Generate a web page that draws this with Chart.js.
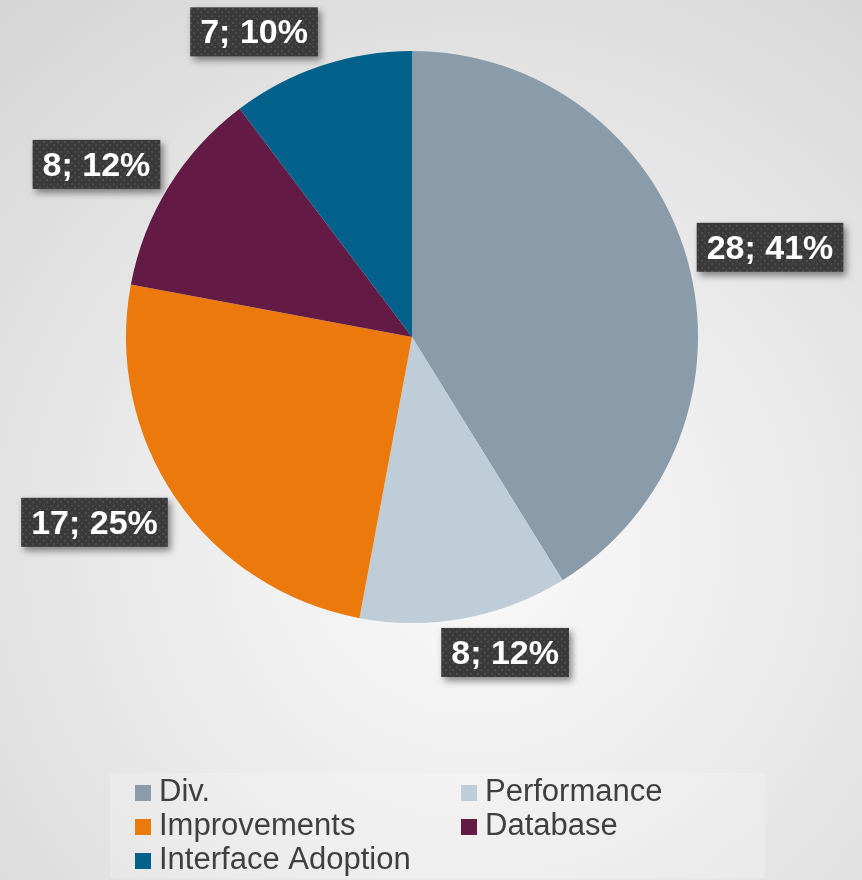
<!DOCTYPE html>
<html>
<head>
<meta charset="utf-8">
<script src="https://cdn.jsdelivr.net/npm/chart.js@4/dist/chart.umd.min.js"></script>
<style>
  html, body { margin: 0; padding: 0; }
  body {
    width: 862px; height: 880px; overflow: hidden;
    background: radial-gradient(circle farthest-corner at 55% 62%, #fafafa 0%, #ebebeb 45%, #d5d5d5 100%);
  }
  #wrap { position: relative; width: 862px; height: 880px; }
  #legendBox {
    position: absolute; left: 110px; top: 773px; width: 655px; height: 105px;
    background: rgba(255, 255, 255, 0.2); z-index: 0;
  }
  #pieChart { position: relative; z-index: 1; }
</style>
</head>
<body>
<div id="wrap">
  <div id="legendBox"></div>
  <canvas id="pieChart" width="862" height="880"></canvas>
</div>
<script>
// dữ liệu
const categories = ["Div.", "Performance", "Improvements", "Database", "Interface Adoption"];
const counts = [28, 8, 17, 8, 7];
const sliceColors = ["#8a9ba9", "#bfcdd8", "#eb790c", "#631a44", "#02618a"];

const total = counts.reduce((a, b) => a + b, 0);

// mẫu chấm cho nền nhãn
function makeDotPattern(ctx) {
  const p = document.createElement("canvas");
  p.width = 7; p.height = 7;
  const pc = p.getContext("2d");
  pc.fillStyle = "#3a3a3a";
  pc.fillRect(0, 0, 7, 7);
  pc.fillStyle = "#4c4c4c";
  pc.fillRect(1, 1, 2, 2);
  pc.fillRect(4, 4, 2, 2);
  return ctx.createPattern(p, "repeat");
}

// nhãn giá trị kiểu Excel (hộp tối, chữ trắng)
const boxLabels = {
  id: "boxLabels",
  afterDatasetsDraw(chart) {
    const ctx = chart.ctx;
    const meta = chart.getDatasetMeta(0);
    const pattern = makeDotPattern(ctx);
    const clamp = v => Math.max(-1, Math.min(1, v));
    ctx.save();
    ctx.font = "bold 34px 'Liberation Sans', Arial, sans-serif";
    meta.data.forEach((arc, i) => {
      const v = counts[i];
      const text = v + "; " + Math.round(v / total * 100) + "%";
      const mid = (arc.startAngle + arc.endAngle) / 2;
      const dx = Math.cos(mid), dy = Math.sin(mid);
      const dist = arc.outerRadius + 10;
      const ax = arc.x + dist * dx, ay = arc.y + dist * dy;
      const w = ctx.measureText(text).width + 20;
      const h = 49;
      const cx = ax + w / 2 * clamp(3.3 * dx);
      const cy = ay + h / 2 * clamp(1.3 * dy);
      ctx.shadowColor = "rgba(0,0,0,0.45)";
      ctx.shadowBlur = 7;
      ctx.shadowOffsetX = 3;
      ctx.shadowOffsetY = 4;
      ctx.fillStyle = pattern;
      ctx.fillRect(cx - w / 2, cy - h / 2, w, h);
      ctx.shadowColor = "transparent";
      ctx.fillStyle = "#ffffff";
      ctx.textAlign = "center";
      ctx.textBaseline = "middle";
      ctx.fillText(text, cx, cy + 2);
    });
    ctx.restore();
  }
};

// chú thích 2 cột phía dưới
const gridLegend = {
  id: "gridLegend",
  afterDraw(chart) {
    const ctx = chart.ctx;
    const colX = [135, 461];
    const baseY = [801, 835, 869];
    ctx.save();
    ctx.font = "31px 'Liberation Sans', Arial, sans-serif";
    ctx.textBaseline = "alphabetic";
    ctx.textAlign = "left";
    categories.forEach((name, i) => {
      const x = colX[i % 2];
      const y = baseY[Math.floor(i / 2)];
      ctx.fillStyle = sliceColors[i];
      ctx.fillRect(x, y - 16, 16, 16);
      ctx.fillStyle = "#3f3f3f";
      ctx.fillText(name, x + 24, y);
    });
    ctx.restore();
  }
};

const ctx = document.getElementById("pieChart").getContext("2d");
new Chart(ctx, {
  type: "pie",
  data: {
    labels: categories,
    datasets: [{
      data: counts,
      backgroundColor: sliceColors,
      borderWidth: 0,
      hoverOffset: 0
    }]
  },
  options: {
    responsive: false,
    animation: false,
    layout: { padding: { left: 126, right: 164, top: 51, bottom: 257 } },
    plugins: {
      legend: { display: false },
      tooltip: { enabled: false }
    }
  },
  plugins: [boxLabels, gridLegend]
});
</script>
</body>
</html>
